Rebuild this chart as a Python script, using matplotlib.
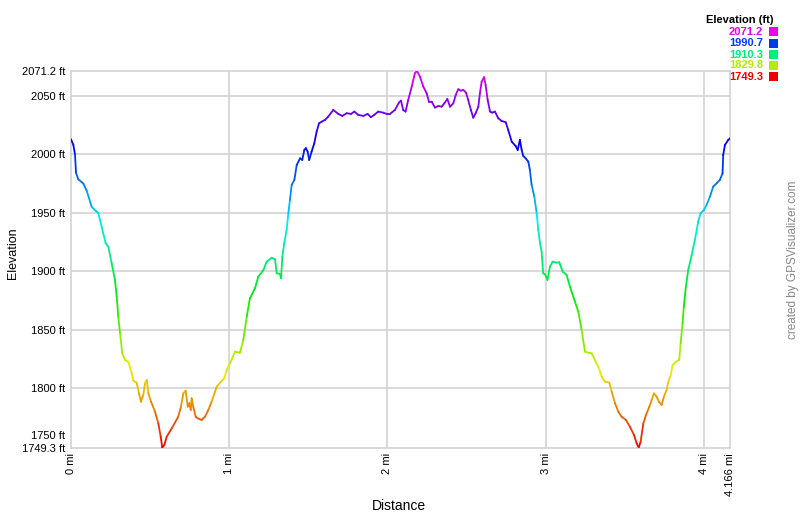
import numpy as np
import matplotlib
matplotlib.use("Agg")
import matplotlib.pyplot as plt
from matplotlib.collections import LineCollection
from matplotlib.colors import hsv_to_rgb

plt.rcParams['font.family'] = ['Liberation Sans', 'DejaVu Sans']

# ---- data ----
distance_mi = [
    0.000, 0.015, 0.025, 0.032, 0.046, 0.078, 0.099, 0.131, 0.162, 0.173,
    0.194, 0.219, 0.236, 0.257, 0.278, 0.289, 0.299, 0.310, 0.324, 0.341,
    0.362, 0.384, 0.394, 0.415, 0.430, 0.442, 0.457, 0.468, 0.479, 0.489,
    0.506, 0.531, 0.552, 0.567, 0.577, 0.590, 0.605, 0.637, 0.678, 0.695,
    0.710, 0.725, 0.738, 0.748, 0.757, 0.763, 0.773, 0.788, 0.801, 0.826,
    0.847, 0.868, 0.889, 0.921, 0.948, 0.969, 0.984, 1.005, 1.037, 1.068,
    1.089, 1.111, 1.131, 1.163, 1.184, 1.216, 1.237, 1.269, 1.290, 1.300,
    1.321, 1.328, 1.336, 1.348, 1.363, 1.374, 1.384, 1.395, 1.412, 1.427,
    1.448, 1.462, 1.475, 1.485, 1.496, 1.506, 1.521, 1.538, 1.553, 1.568,
    1.585, 1.606, 1.626, 1.658, 1.690, 1.715, 1.743, 1.770, 1.791, 1.816,
    1.848, 1.875, 1.896, 1.917, 1.942, 1.974, 1.996, 2.016, 2.048, 2.073,
    2.086, 2.100, 2.115, 2.132, 2.154, 2.174, 2.187, 2.206, 2.227, 2.248,
    2.263, 2.280, 2.301, 2.322, 2.343, 2.360, 2.379, 2.396, 2.417, 2.432,
    2.448, 2.465, 2.480, 2.497, 2.511, 2.528, 2.543, 2.558, 2.575, 2.585,
    2.596, 2.611, 2.621, 2.634, 2.649, 2.663, 2.680, 2.701, 2.722, 2.748,
    2.764, 2.786, 2.811, 2.824, 2.838, 2.849, 2.859, 2.874, 2.891, 2.901,
    2.912, 2.929, 2.944, 2.954, 2.965, 2.975, 2.985, 2.996, 3.012, 3.028,
    3.045, 3.070, 3.087, 3.108, 3.133, 3.154, 3.186, 3.207, 3.228, 3.249,
    3.270, 3.291, 3.312, 3.333, 3.355, 3.375, 3.403, 3.418, 3.439, 3.460,
    3.481, 3.508, 3.533, 3.559, 3.576, 3.589, 3.601, 3.618, 3.635, 3.656,
    3.671, 3.685, 3.702, 3.717, 3.734, 3.748, 3.765, 3.776, 3.791, 3.803,
    3.824, 3.845, 3.854, 3.866, 3.874, 3.887, 3.902, 3.924, 3.944, 3.965,
    3.980, 4.001, 4.018, 4.039, 4.060, 4.082, 4.102, 4.119, 4.123, 4.134,
    4.155, 4.166,
]
elevation_ft = [
    2012.9, 2008.0, 2000.0, 1984.0, 1978.6, 1975.0, 1969.0, 1955.0, 1951.0, 1949.6,
    1938.0, 1924.0, 1921.0, 1906.9, 1892.6, 1878.3, 1861.2, 1847.0, 1829.9, 1824.2,
    1822.7, 1812.8, 1806.5, 1804.8, 1795.7, 1788.5, 1794.3, 1804.3, 1807.1, 1795.7,
    1788.5, 1780.0, 1770.0, 1758.6, 1749.3, 1751.5, 1758.6, 1765.8, 1775.7, 1784.3,
    1795.7, 1797.9, 1784.3, 1787.2, 1781.4, 1791.4, 1784.3, 1775.7, 1774.3, 1772.9,
    1775.7, 1781.4, 1788.5, 1801.4, 1805.6, 1808.5, 1815.6, 1821.4, 1831.3, 1830.4,
    1841.3, 1861.2, 1876.9, 1885.5, 1895.4, 1901.1, 1908.2, 1911.6, 1910.3, 1898.3,
    1897.7, 1894.0, 1912.5, 1924.0, 1935.3, 1949.6, 1961.0, 1973.8, 1978.1, 1990.9,
    1996.6, 1995.2, 2003.7, 2005.2, 2002.3, 1995.2, 2002.3, 2009.4, 2019.4, 2026.5,
    2027.9, 2029.4, 2032.2, 2037.9, 2034.5, 2032.8, 2035.1, 2034.5, 2036.5, 2033.7,
    2032.8, 2034.5, 2031.7, 2033.7, 2036.5, 2035.6, 2034.5, 2034.5, 2037.9, 2044.2,
    2045.9, 2037.9, 2036.5, 2046.5, 2057.9, 2069.3, 2071.2, 2066.4, 2057.9, 2052.2,
    2045.0, 2045.0, 2039.9, 2041.3, 2040.7, 2043.6, 2047.3, 2040.7, 2043.6, 2050.7,
    2055.6, 2054.4, 2055.0, 2052.7, 2046.5, 2037.9, 2031.3, 2035.1, 2040.7, 2052.2,
    2062.1, 2065.9, 2059.3, 2046.5, 2036.5, 2035.6, 2036.5, 2030.8, 2028.5, 2027.4,
    2020.8, 2010.8, 2007.1, 2003.7, 2012.3, 2003.7, 1998.6, 1996.6, 1993.7, 1986.6,
    1973.8, 1963.8, 1949.6, 1935.3, 1924.0, 1916.8, 1898.3, 1897.5, 1892.6, 1904.0,
    1908.2, 1907.4, 1907.7, 1899.7, 1896.9, 1886.9, 1874.0, 1865.5, 1849.8, 1831.3,
    1830.4, 1829.9, 1824.2, 1818.5, 1809.9, 1805.6, 1804.8, 1797.1, 1787.2, 1780.0,
    1775.7, 1772.9, 1767.2, 1760.1, 1752.9, 1749.5, 1754.3, 1770.0, 1777.2, 1784.3,
    1790.0, 1795.7, 1792.8, 1788.5, 1785.7, 1792.8, 1798.5, 1805.6, 1811.4, 1819.9,
    1822.7, 1824.2, 1838.5, 1855.6, 1869.8, 1886.9, 1901.1, 1914.0, 1926.8, 1942.4,
    1949.6, 1952.4, 1956.7, 1963.8, 1972.4, 1975.3, 1978.1, 1983.8, 1999.4, 2008.0,
    2012.3, 2013.7,
]
elev_min = 1749.3
elev_max = 2071.2
y_ticks = [1800, 1850, 1900, 1950, 2000, 2050]
x_ticks = [0, 1, 2, 3, 4]
x_end = 4.166
legend_values = [2071.2, 1990.7, 1910.3, 1829.8, 1749.3]

# ---- colour mapping: hue 0 (red) -> 300 (magenta) ----
def elev_color(e):
    f = (e - elev_min) / (elev_max - elev_min)
    f = min(max(f, 0.0), 1.0)
    return hsv_to_rgb([f * 300.0 / 360.0, 1.0, 0.93])

fig = plt.figure(figsize=(8.0, 5.17), dpi=100)
ax = fig.add_axes([71 / 800, 1 - 447.6 / 517, (730 - 71) / 800, (447.6 - 71) / 517])

grid_c = '#d0d0d0'
for t in y_ticks:
    ax.axhline(t, color=grid_c, lw=1.1, zorder=1)
for t in x_ticks[1:]:
    ax.axvline(t, color=grid_c, lw=1.1, zorder=1)

x = np.array(distance_mi)
y = np.array(elevation_ft)
pts = np.column_stack([x, y]).reshape(-1, 1, 2)
segs = np.concatenate([pts[:-1], pts[1:]], axis=1)
cols = [elev_color((y[i] + y[i + 1]) / 2) for i in range(len(y) - 1)]
lc = LineCollection(segs, colors=cols, linewidths=1.3, capstyle='round', joinstyle='round', zorder=3)
ax.add_collection(lc)

ax.set_xlim(0, x_end)
ax.set_ylim(elev_min, elev_max)

for s in ax.spines.values():
    s.set_color(grid_c)
    s.set_linewidth(1.1)

# y ticks
yt = [elev_min] + y_ticks + [elev_max]
ytl = ['1749.3 ft'] + [f'{t} ft' for t in y_ticks] + ['2071.2 ft']
ax.set_yticks(yt)
ax.set_yticklabels(ytl)
ax.tick_params(axis='y', length=0, pad=4, labelsize=8, colors='#000000')
# extra 1750 label bumped up
ax.annotate('1750 ft', xy=(0, 1750), xycoords=('axes fraction', 'data'),
            xytext=(-4, 8), textcoords='offset points', ha='right', va='center', fontsize=8)

# x ticks
xt = x_ticks + [x_end]
xtl = [f'{t} mi' for t in x_ticks] + ['4.166 mi']
ax.set_xticks(xt)
ax.set_xticklabels(xtl, rotation=90, va='top', ha='center')
ax.tick_params(axis='x', length=0, pad=4, labelsize=8)

ax.set_ylabel('Elevation', fontsize=9)
ax.set_xlabel('Distance', fontsize=10)
ax.yaxis.set_label_coords(-0.079, 0.515)
ax.xaxis.set_label_coords(0.498, -0.137)

# right credit
fig.text(793 / 800, 1 - 260 / 517, 'created by GPSVisualizer.com', rotation=90,
         ha='center', va='center', fontsize=8.5, color='#888888')

# legend
fig.text(774 / 800, 1 - 20 / 517, 'Elevation (ft)', ha='right', va='center',
         fontsize=8, fontweight='bold', color='#000000')
leg_y = [31.7, 43.5, 54.5, 65.5, 76.5]
for v, ly in zip(legend_values, leg_y):
    c = elev_color(v)
    fig.text(763 / 800, 1 - ly / 517, f'{v:.1f}', ha='right', va='center',
             fontsize=8, fontweight='bold', color=c)
    fig.patches.append(plt.Rectangle((768.5 / 800, 1 - (ly + 4.5) / 517), 9 / 800, 9 / 517,
                                     transform=fig.transFigure, facecolor=c, edgecolor='none'))

fig.savefig('out.png', dpi=100)
